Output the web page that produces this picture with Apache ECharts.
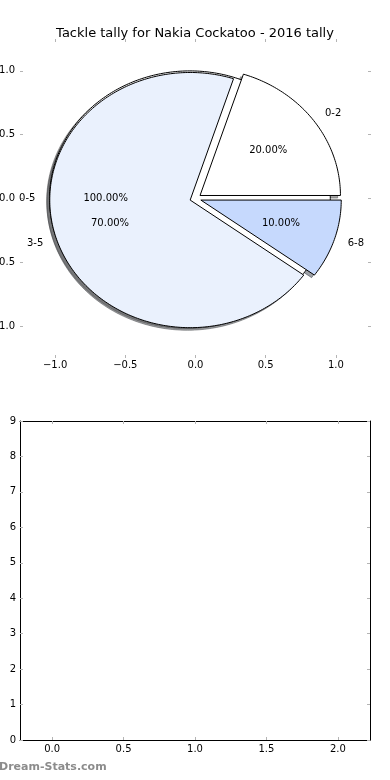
<!DOCTYPE html>
<html><head><meta charset="utf-8">
<script src="https://cdn.jsdelivr.net/npm/echarts@6/dist/echarts.min.js"></script>
<style>html,body{margin:0;padding:0;background:#fff}#c{width:390px;height:780px}</style>
</head><body><div id="c"></div>
<script>
// ---- data ----
const titleText = 'Tackle tally for Nakia Cockatoo - 2016 tally';
const outerCategories = ['0-5'];
const outerValues = [10];
const categories = ['0-2', '3-5', '6-8'];
const values = [2, 7, 1];
const outerColors = ['#ffffff'];
const sliceColors = ['#ffffff', '#eaf1fd', '#c6d9fd'];
const pieTickValues = [-1, -0.5, 0, 0.5, 1];
const pieTickLabels = ['\u22121.0', '\u22120.5', '0.0', '0.5', '1.0'];
const barXTickValues = [0, 0.5, 1, 1.5, 2];
const barXTickLabels = ['0.0', '0.5', '1.0', '1.5', '2.0'];
const barYTickValues = [0, 1, 2, 3, 4, 5, 6, 7, 8, 9];
const barYTickLabels = ['0', '1', '2', '3', '4', '5', '6', '7', '8', '9'];
const watermark = 'Dream-Stats.com';

// ---- geometry helpers ----
const R = 1, EXPLODE = 0.04, SHX = -0.02, SHY = -0.02;
const FONT = 'DejaVu Sans';
function buildWedges(vals, cats, colors) {
  const sum = vals.reduce((a, b) => a + b, 0);
  let start = 0;
  return vals.map((v, i) => {
    const t1 = start, t2 = start + 360 * v / sum;
    start = t2;
    const mid = (t1 + t2) / 2 * Math.PI / 180;
    return {
      cat: cats[i], pct: (100 * v / sum).toFixed(2) + '%', t1, t2,
      cos: Math.cos(mid), sin: Math.sin(mid),
      ox: EXPLODE * Math.cos(mid), oy: EXPLODE * Math.sin(mid), color: colors[i]
    };
  });
}
const wedges = buildWedges(outerValues, outerCategories, outerColors)
  .concat(buildWedges(values, categories, sliceColors));

function shade(hex) {
  const n = parseInt(hex.slice(1), 16);
  const r = Math.round(((n >> 16) & 255) * 0.3), g = Math.round(((n >> 8) & 255) * 0.3), b = Math.round((n & 255) * 0.3);
  return 'rgba(' + r + ',' + g + ',' + b + ',0.5)';
}
function wedgePoints(api, w, dx, dy) {
  const pts = [];
  const full = (w.t2 - w.t1) >= 359.999;
  const cx = w.ox + dx, cy = w.oy + dy;
  if (!full) pts.push(api.coord([cx, cy]));
  const n = Math.max(8, Math.ceil(w.t2 - w.t1));
  for (let i = 0; i <= n; i++) {
    const a = (w.t1 + (w.t2 - w.t1) * i / n) * Math.PI / 180;
    pts.push(api.coord([cx + R * Math.cos(a), cy + R * Math.sin(a)]));
  }
  return pts;
}

const chart = echarts.init(document.getElementById('c'), null, { renderer: 'canvas' });
const tickGray = '#b4b4b4';
function fmt(vals, labels) { return v => { const i = vals.findIndex(t => Math.abs(t - v) < 1e-9); return i >= 0 ? labels[i] : ''; }; }
const labelStyle = { fontFamily: FONT, fontSize: 10, color: '#000' };
const hiddenLine = { show: false, onZero: false };
const blackLine = { show: true, onZero: false, lineStyle: { color: '#000', width: 1 } };

const option = {
  animation: false,
  backgroundColor: '#fff',
  title: { text: titleText, left: 'center', top: 22, textStyle: { fontFamily: FONT, fontSize: 13, fontWeight: 'normal', color: '#000' } },
  grid: [
    { left: 20, top: 39, width: 351, height: 319, containLabel: false, outerBoundsMode: 'none' },
    { left: 20, top: 421, width: 350, height: 319, containLabel: false, outerBoundsMode: 'none' }
  ],
  xAxis: [
    { gridIndex: 0, type: 'value', min: -1.25, max: 1.25, position: 'bottom',
      axisLine: hiddenLine, splitLine: { show: false },
      axisTick: { show: true, inside: true, length: 3, customValues: pieTickValues, lineStyle: { color: tickGray } },
      axisLabel: Object.assign({ margin: 2, customValues: pieTickValues, formatter: fmt(pieTickValues, pieTickLabels) }, labelStyle) },
    { gridIndex: 0, type: 'value', min: -1.25, max: 1.25, position: 'top',
      axisLine: hiddenLine, splitLine: { show: false },
      axisTick: { show: true, inside: true, length: 3, customValues: pieTickValues, lineStyle: { color: tickGray } },
      axisLabel: { show: false } },
    { gridIndex: 1, type: 'value', min: -0.225, max: 2.225, position: 'bottom',
      axisLine: blackLine, splitLine: { show: false },
      axisTick: { show: true, inside: true, length: 3, customValues: barXTickValues, lineStyle: { color: tickGray } },
      axisLabel: Object.assign({ margin: 4, customValues: barXTickValues, formatter: fmt(barXTickValues, barXTickLabels) }, labelStyle) },
    { gridIndex: 1, type: 'value', min: -0.225, max: 2.225, position: 'top',
      axisLine: blackLine, splitLine: { show: false },
      axisTick: { show: true, inside: true, length: 3, customValues: barXTickValues, lineStyle: { color: tickGray } },
      axisLabel: { show: false } }
  ],
  yAxis: [
    { gridIndex: 0, type: 'value', min: -1.25, max: 1.25, position: 'left',
      axisLine: hiddenLine, splitLine: { show: false },
      axisTick: { show: true, inside: true, length: 3, customValues: pieTickValues, lineStyle: { color: tickGray } },
      axisLabel: Object.assign({ margin: 5, customValues: pieTickValues, formatter: fmt(pieTickValues, pieTickLabels) }, labelStyle) },
    { gridIndex: 0, type: 'value', min: -1.25, max: 1.25, position: 'right',
      axisLine: hiddenLine, splitLine: { show: false },
      axisTick: { show: true, inside: true, length: 3, customValues: pieTickValues, lineStyle: { color: tickGray } },
      axisLabel: { show: false } },
    { gridIndex: 1, type: 'value', min: 0, max: 9, interval: 1, position: 'left',
      axisLine: blackLine, splitLine: { show: false },
      axisTick: { show: true, inside: true, length: 3, lineStyle: { color: tickGray } },
      axisLabel: Object.assign({ margin: 4, formatter: fmt(barYTickValues, barYTickLabels) }, labelStyle) },
    { gridIndex: 1, type: 'value', min: 0, max: 9, interval: 1, position: 'right',
      axisLine: blackLine, splitLine: { show: false },
      axisTick: { show: true, inside: true, length: 3, lineStyle: { color: tickGray } },
      axisLabel: { show: false } }
  ],
  graphic: [
    { type: 'text', left: -1, top: 762, z: 100,
      style: { text: watermark, fill: '#8c8c8c', font: 'bold 11px "DejaVu Sans"' } }
  ],
  series: [
    { type: 'custom', name: 'shadows', xAxisIndex: 0, yAxisIndex: 0, z: 1, clip: false, silent: true,
      data: wedges.map(w => [w.ox, w.oy]),
      renderItem: (params, api) => {
        const w = wedges[params.dataIndex];
        const c = shade(w.color);
        return { type: 'polygon', shape: { points: wedgePoints(api, w, SHX, SHY) }, style: { fill: c, stroke: c, lineWidth: 1 } };
      } },
    { type: 'custom', name: 'wedges', xAxisIndex: 0, yAxisIndex: 0, z: 2, clip: false, silent: true,
      data: wedges.map(w => [w.ox, w.oy]),
      renderItem: (params, api) => {
        const w = wedges[params.dataIndex];
        return { type: 'polygon', shape: { points: wedgePoints(api, w, 0, 0) }, style: { fill: w.color, stroke: '#000', lineWidth: 1 } };
      } },
    { type: 'custom', name: 'labels', xAxisIndex: 0, yAxisIndex: 0, z: 3, clip: false, silent: true,
      data: wedges.map(w => [w.ox, w.oy]),
      renderItem: (params, api) => {
        const w = wedges[params.dataIndex];
        const lx = w.ox + 1.1 * R * w.cos, ly = w.oy + 1.1 * R * w.sin;
        const px = w.ox + 0.6 * R * w.cos, py = w.oy + 0.6 * R * w.sin;
        const lp = api.coord([lx, ly]), pp = api.coord([px, py]);
        return { type: 'group', children: [
          { type: 'text', x: lp[0], y: lp[1], style: { text: w.cat, fill: '#000', fontFamily: FONT, fontSize: 10, align: lx > 0 ? 'left' : 'right', verticalAlign: 'middle' } },
          { type: 'text', x: pp[0], y: pp[1], style: { text: w.pct, fill: '#000', fontFamily: FONT, fontSize: 10, align: 'center', verticalAlign: 'middle' } }
        ] };
      } }
  ]
};
chart.setOption(option);
</script></body></html>
